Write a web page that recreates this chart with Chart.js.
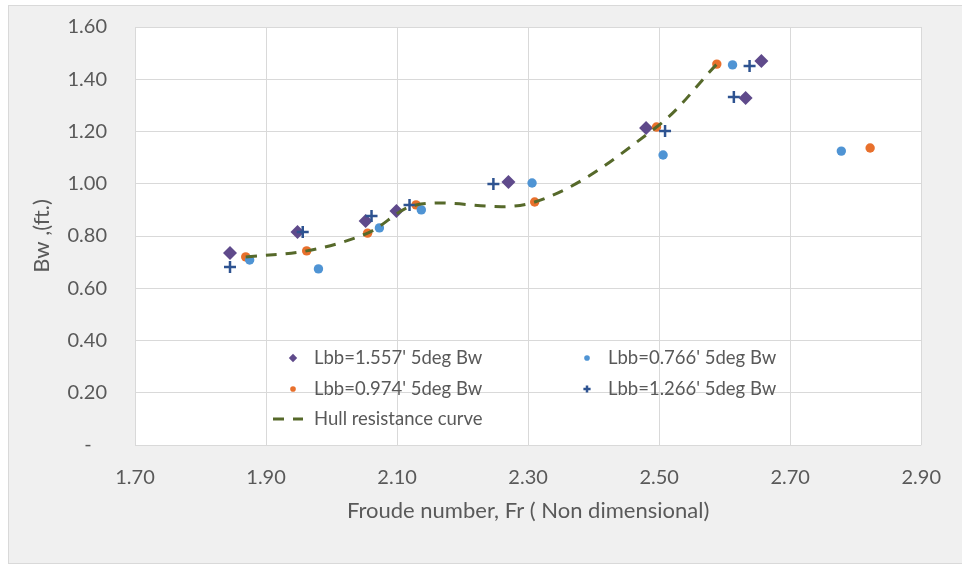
<!DOCTYPE html>
<html>
<head>
<meta charset="utf-8">
<script src="https://cdn.jsdelivr.net/npm/chart.js@4.4.1/dist/chart.umd.min.js"></script>
<style>
body { margin: 0; background: #ffffff; }
#frame { position: absolute; left: 8px; top: 5px; width: 960px; height: 559px; box-sizing: border-box; background: #f0f0f0; border: 1px solid #d9d9d9; }
#wrap { position: absolute; left: 0; top: 0; width: 962px; height: 569px; }
</style>
</head>
<body>
<div id="frame"></div>
<div id="wrap"><canvas id="chart" width="962" height="569"></canvas></div>
<script>
const FONT = "Lato"
const TEXT = "#595959"

const seriesNames = [
    "Lbb=1.557' 5deg Bw",
    "Lbb=0.766' 5deg Bw",
    "Lbb=0.974' 5deg Bw",
    "Lbb=1.266' 5deg Bw",
    "Hull resistance curve"
]

// Froude number / wave width for each bulb length
const frLbb1557 = [1.845, 1.948, 2.052, 2.099, 2.270, 2.480, 2.632, 2.656]
const bwLbb1557 = [0.735, 0.815, 0.857, 0.896, 1.007, 1.213, 1.328, 1.470]

const frLbb0766 = [1.875, 1.980, 2.073, 2.137, 2.306, 2.506, 2.612, 2.778]
const bwLbb0766 = [0.708, 0.674, 0.831, 0.900, 1.003, 1.110, 1.455, 1.125]

const frLbb0974 = [1.869, 1.962, 2.055, 2.129, 2.310, 2.496, 2.588, 2.822]
const bwLbb0974 = [0.720, 0.743, 0.811, 0.919, 0.930, 1.217, 1.458, 1.137]

const frLbb1266 = [1.845, 1.956, 2.061, 2.119, 2.247, 2.509, 2.614, 2.638]
const bwLbb1266 = [0.681, 0.815, 0.877, 0.919, 0.999, 1.202, 1.332, 1.451]

const frHull = [1.869, 1.962, 2.055, 2.129, 2.310, 2.496, 2.588]
const bwHull = [0.720, 0.743, 0.811, 0.919, 0.930, 1.217, 1.458]

const xTicks = [1.7, 1.9, 2.1, 2.3, 2.5, 2.7, 2.9]
const yTicks = [0, 0.2, 0.4, 0.6, 0.8, 1.0, 1.2, 1.4, 1.6]

const pts = (xs, ys) => xs.map((x, i) => ({ x: x, y: ys[i] }))

const datasets = [
    { label: seriesNames[0], data: pts(frLbb1557, bwLbb1557), pointStyle: "rectRot", pointRadius: 7,
      backgroundColor: "#5f4a8b", borderColor: "#5f4a8b", borderWidth: 0, order: 4 },
    { label: seriesNames[1], data: pts(frLbb0766, bwLbb0766), pointStyle: "circle", pointRadius: 4.7,
      backgroundColor: "#4f94d4", borderColor: "#4f94d4", borderWidth: 0, order: 2 },
    { label: seriesNames[2], data: pts(frLbb0974, bwLbb0974), pointStyle: "circle", pointRadius: 4.7,
      backgroundColor: "#e8702c", borderColor: "#e8702c", borderWidth: 0, order: 3 },
    { label: seriesNames[3], data: pts(frLbb1266, bwLbb1266), pointStyle: "cross", pointRadius: 6,
      backgroundColor: "#2e5391", borderColor: "#2e5391", pointBorderWidth: 2.5, order: 1 },
    { label: seriesNames[4], data: pts(frHull, bwHull), showLine: true, pointRadius: 0, tension: 0.35,
      borderColor: "#56692a", borderWidth: 3, borderDash: [11, 9], order: 0 }
]

const plotBackground = {
    id: "plotBackground",
    beforeDraw(chart) {
        const { ctx, chartArea: a } = chart
        ctx.save()
        ctx.fillStyle = "#ffffff"
        ctx.fillRect(a.left, a.top, a.right - a.left, a.bottom - a.top)
        ctx.restore()
    }
}

// legend sits inside the plot, two columns
const legendSlots = [[293, 358], [587, 358], [293, 389], [587, 389], [288, 419]]

const insideLegend = {
    id: "insideLegend",
    afterDraw(chart) {
        const ctx = chart.ctx
        ctx.save()
        chart.data.datasets.forEach((ds, i) => {
            const [x, y] = legendSlots[i]
            if (ds.showLine) {
                ctx.strokeStyle = ds.borderColor
                ctx.lineWidth = 3
                ctx.setLineDash(ds.borderDash)
                ctx.beginPath()
                ctx.moveTo(x - 15, y)
                ctx.lineTo(x + 15, y)
                ctx.stroke()
                ctx.setLineDash([])
            } else {
                ctx.fillStyle = ds.backgroundColor
                ctx.strokeStyle = ds.borderColor
                ctx.lineWidth = ds.pointBorderWidth || 0
                Chart.helpers.drawPoint(ctx, {
                    pointStyle: ds.pointStyle,
                    radius: ds.pointRadius * 0.6,
                    rotation: 0,
                    borderWidth: ds.pointBorderWidth ? 1.6 : 0
                }, x, y)
            }
            ctx.fillStyle = TEXT
            ctx.font = `18.5px ${FONT}`
            ctx.textBaseline = "middle"
            ctx.textAlign = "left"
            ctx.fillText(ds.label, ds.showLine ? x + 26 : x + 21, y)
        })
        ctx.restore()
    }
}

new Chart(document.getElementById("chart"), {
    type: "scatter",
    data: { datasets: datasets },
    plugins: [plotBackground, insideLegend],
    options: {
        responsive: false,
        animation: false,
        layout: { padding: { left: 0, top: 27, right: 39, bottom: 0 } },
        plugins: {
            legend: { display: false },
            tooltip: { enabled: false }
        },
        scales: {
            x: {
                type: "linear",
                min: xTicks[0],
                max: xTicks[xTicks.length - 1],
                afterBuildTicks: s => { s.ticks = xTicks.map(v => ({ value: v })) },
                afterFit: s => { s.height = 124 },
                grid: { color: "#d9d9d9", lineWidth: 1, drawTicks: false },
                border: { display: false },
                ticks: {
                    padding: 21,
                    color: TEXT,
                    font: { family: FONT, size: 20 },
                    callback: v => v.toFixed(2)
                },
                title: {
                    display: true,
                    text: "Froude number, Fr ( Non dimensional)",
                    color: TEXT,
                    font: { family: FONT, size: 22 },
                    padding: { top: 0, bottom: 45 }
                }
            },
            y: {
                type: "linear",
                min: yTicks[0],
                max: yTicks[yTicks.length - 1],
                afterBuildTicks: s => { s.ticks = yTicks.map(v => ({ value: v })) },
                afterFit: s => {
                    s.width = 135
                    // tick padding would otherwise push the plot top down
                    s.paddingTop = 0
                    s.paddingBottom = 0
                },
                grid: { color: "#d9d9d9", lineWidth: 1, drawTicks: false },
                border: { display: false },
                ticks: {
                    padding: 28,
                    color: TEXT,
                    font: { family: FONT, size: 20 },
                    callback: v => v === 0 ? "-   " : v.toFixed(2)
                },
                title: {
                    display: true,
                    text: "Bw ,(ft.)",
                    color: TEXT,
                    font: { family: FONT, size: 22 },
                    padding: { top: 29, bottom: 0 }
                }
            }
        }
    }
})
</script>
</body>
</html>
